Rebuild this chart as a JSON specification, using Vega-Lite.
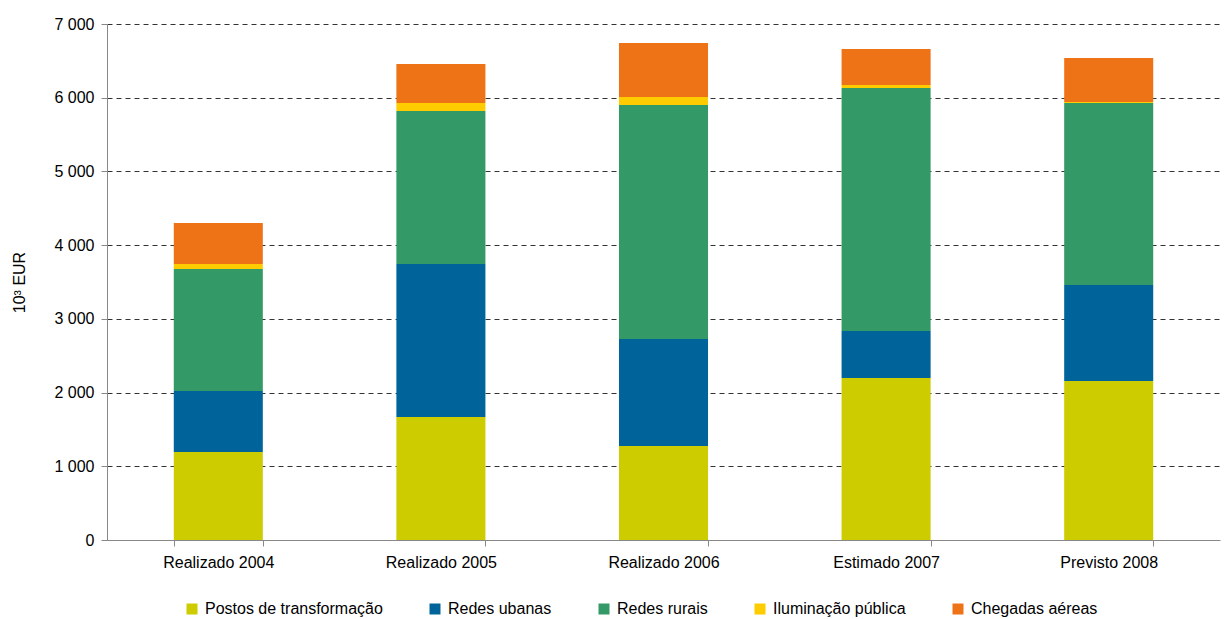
{
  "$schema": "https://vega.github.io/schema/vega-lite/v6.json",
  "autosize": "none",
  "width": 1113,
  "height": 516,
  "padding": {"left": 107, "top": 24, "right": 8, "bottom": 79},
  "background": "white",
  "config": {
    "font": "Liberation Sans",
    "view": {"stroke": null}
  },
  "data": {
    "values": [
      {"periodo": "Realizado 2004", "rubrica": "Postos de transformação", "ordem": 1, "valor": 1194},
      {"periodo": "Realizado 2004", "rubrica": "Redes ubanas", "ordem": 2, "valor": 827},
      {"periodo": "Realizado 2004", "rubrica": "Redes rurais", "ordem": 3, "valor": 1656},
      {"periodo": "Realizado 2004", "rubrica": "Iluminação pública", "ordem": 4, "valor": 68},
      {"periodo": "Realizado 2004", "rubrica": "Chegadas aéreas", "ordem": 5, "valor": 557},
      {"periodo": "Realizado 2005", "rubrica": "Postos de transformação", "ordem": 1, "valor": 1669},
      {"periodo": "Realizado 2005", "rubrica": "Redes ubanas", "ordem": 2, "valor": 2075},
      {"periodo": "Realizado 2005", "rubrica": "Redes rurais", "ordem": 3, "valor": 2076},
      {"periodo": "Realizado 2005", "rubrica": "Iluminação pública", "ordem": 4, "valor": 109},
      {"periodo": "Realizado 2005", "rubrica": "Chegadas aéreas", "ordem": 5, "valor": 529},
      {"periodo": "Realizado 2006", "rubrica": "Postos de transformação", "ordem": 1, "valor": 1275},
      {"periodo": "Realizado 2006", "rubrica": "Redes ubanas", "ordem": 2, "valor": 1452},
      {"periodo": "Realizado 2006", "rubrica": "Redes rurais", "ordem": 3, "valor": 3175},
      {"periodo": "Realizado 2006", "rubrica": "Iluminação pública", "ordem": 4, "valor": 108},
      {"periodo": "Realizado 2006", "rubrica": "Chegadas aéreas", "ordem": 5, "valor": 733},
      {"periodo": "Estimado 2007", "rubrica": "Postos de transformação", "ordem": 1, "valor": 2198},
      {"periodo": "Estimado 2007", "rubrica": "Redes ubanas", "ordem": 2, "valor": 637},
      {"periodo": "Estimado 2007", "rubrica": "Redes rurais", "ordem": 3, "valor": 3297},
      {"periodo": "Estimado 2007", "rubrica": "Iluminação pública", "ordem": 4, "valor": 41},
      {"periodo": "Estimado 2007", "rubrica": "Chegadas aéreas", "ordem": 5, "valor": 488},
      {"periodo": "Previsto 2008", "rubrica": "Postos de transformação", "ordem": 1, "valor": 2157},
      {"periodo": "Previsto 2008", "rubrica": "Redes ubanas", "ordem": 2, "valor": 1303},
      {"periodo": "Previsto 2008", "rubrica": "Redes rurais", "ordem": 3, "valor": 2469},
      {"periodo": "Previsto 2008", "rubrica": "Iluminação pública", "ordem": 4, "valor": 13},
      {"periodo": "Previsto 2008", "rubrica": "Chegadas aéreas", "ordem": 5, "valor": 597}
    ]
  },
  "mark": {"type": "bar"},
  "encoding": {
    "x": {
      "field": "periodo",
      "type": "nominal",
      "sort": ["Realizado 2004", "Realizado 2005", "Realizado 2006", "Estimado 2007", "Previsto 2008"],
      "scale": {"paddingInner": 0.6, "paddingOuter": 0.3},
      "axis": {
        "title": null,
        "labelAngle": 0,
        "labelFontSize": 16,
        "labelColor": "#000000",
        "labelPadding": 8,
        "domainColor": "#888888",
        "tickColor": "#888888",
        "tickBand": "extent",
        "tickSize": 6,
        "grid": false
      }
    },
    "y": {
      "field": "valor",
      "type": "quantitative",
      "aggregate": "sum",
      "stack": "zero",
      "scale": {"domain": [0, 7000], "nice": false},
      "axis": {
        "title": "10³ EUR",
        "titleFontSize": 16,
        "titleFontWeight": "normal",
        "titleColor": "#000000",
        "titlePadding": 26,
        "values": [0, 1000, 2000, 3000, 4000, 5000, 6000, 7000],
        "labelExpr": "replace(format(datum.value, ',d'), ',', ' ')",
        "labelFontSize": 16,
        "labelColor": "#000000",
        "labelPadding": 7,
        "domainColor": "#888888",
        "tickColor": "#888888",
        "tickSize": 6,
        "grid": true,
        "gridColor": "#333333",
        "gridDash": [5, 4],
        "gridWidth": 1
      }
    },
    "color": {
      "field": "rubrica",
      "type": "nominal",
      "sort": ["Postos de transformação", "Redes ubanas", "Redes rurais", "Iluminação pública", "Chegadas aéreas"],
      "scale": {
        "domain": ["Postos de transformação", "Redes ubanas", "Redes rurais", "Iluminação pública", "Chegadas aéreas"],
        "range": ["#CCCC00", "#00649A", "#339966", "#FFCC00", "#EE7316"]
      },
      "legend": {
        "title": null,
        "orient": "none",
        "direction": "horizontal",
        "legendX": 77,
        "legendY": 577,
        "symbolType": "square",
        "symbolSize": 121,
        "symbolStrokeWidth": 0,
        "labelFontSize": 16,
        "labelColor": "#000000",
        "labelLimit": 400,
        "columnPadding": 44,
        "labelOffset": 5
      }
    },
    "order": {"field": "ordem", "type": "quantitative", "aggregate": "min"}
  }
}
